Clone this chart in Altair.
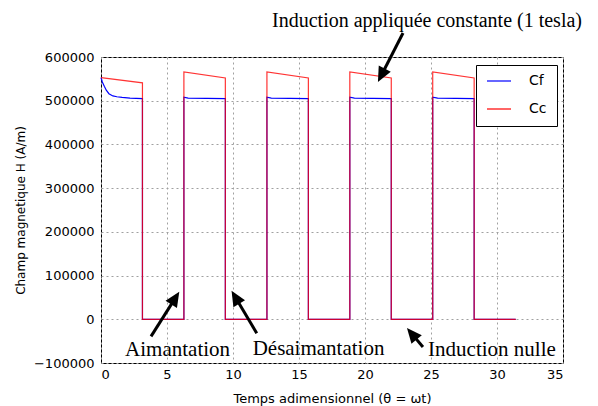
import math
import altair as alt
import pandas as pd

# ---- data ----
cc_t = [0.0, 3.14, 3.14, 6.28, 6.28, 9.42, 9.42, 12.57, 12.57, 15.71, 15.71,
        18.85, 18.85, 21.99, 21.99, 25.13, 25.13, 28.27, 28.27, 31.42]
cc_h = [553000, 541000, 0, 0, 566000, 552000, 0, 0, 566000, 552000, 0,
        0, 566000, 552000, 0, 0, 566000, 552000, 0, 0]

cf_t = [0.0, 0.1, 0.25, 0.4, 0.6, 0.9, 1.2, 1.6, 2.2, 3.14,
        3.14, 6.28,
        6.28, 6.6, 9.42, 9.42, 12.57,
        12.57, 12.9, 15.71, 15.71, 18.85,
        18.85, 19.2, 21.99, 21.99, 25.13,
        25.13, 25.5, 28.27, 28.27, 31.42]
cf_h = [553000, 543000, 533000, 524000, 516000, 511000, 509000, 507500, 506000, 505000,
        0, 0,
        508000, 506000, 505000, 0, 0,
        508000, 506000, 505000, 0, 0,
        508000, 506000, 505000, 0, 0,
        508000, 506000, 505000, 0, 0]

x_ticks = [0, 5, 10, 15, 20, 25, 30, 35]
y_ticks = [-100000, 0, 100000, 200000, 300000, 400000, 500000, 600000]

ann_text = ["Induction appliquée constante (1 tesla)", "Aimantation",
            "Désaimantation", "Induction nulle"]
ann_tx = [24.7, 5.80, 16.48, 29.62]
ann_ty = [682000, -70260, -67000, -70260]
ann_size = [20, 21, 21, 21]
arr_t0 = [22.88, 3.79, 11.80, 24.39]
arr_h0 = [655000, -39000, -32000, -63400]
arr_t1 = [20.98, 5.93, 9.89, 23.18]
arr_h1 = [542800, 63000, 65000, -19930]

W, H = 462, 306
XMIN, XMAX = 0, 35
YMIN, YMAX = -100000, 600000
sx = W / (XMAX - XMIN)
sy = H / (YMAX - YMIN)

cf = pd.DataFrame({"t": cf_t, "h": cf_h, "series": "Cf", "i": range(len(cf_t))})
cc = pd.DataFrame({"t": cc_t, "h": cc_h, "series": "Cc", "i": range(len(cc_t))})

rows = []
for t0, h0, t1, h1 in zip(arr_t0, arr_h0, arr_t1, arr_h1):
    dx = (t1 - t0) * sx
    dy = -(h1 - h0) * sy
    ln = math.hypot(dx, dy)
    ux, uy = dx / ln, dy / ln
    ang = math.degrees(math.atan2(dx, -dy)) % 360
    rows.append({"t0": t0, "h0": h0, "t1": t1, "h1": h1,
                 "te": t1 - ux * 9 / sx, "he": h1 + uy * 9 / sy, "angle": ang})
arr = pd.DataFrame(rows)
ann = pd.DataFrame({"text": ann_text, "t": ann_tx, "h": ann_ty, "size": ann_size})

xs = alt.Scale(domain=[XMIN, XMAX], nice=False, zero=False)
ys = alt.Scale(domain=[YMIN, YMAX], nice=False, zero=False)
color = alt.Color("series:N",
                  scale=alt.Scale(domain=["Cf", "Cc"], range=["#0000ff", "#ff0000"]),
                  legend=alt.Legend(title=None, orient="none", legendX=375, legendY=8,
                                    strokeColor="black", fillColor="white", padding=10,
                                    symbolType="stroke", symbolSize=576,
                                    symbolStrokeWidth=1.5, labelFont="DejaVu Sans",
                                    labelFontSize=14, labelColor="black",
                                    labelOffset=17, clipHeight=12, rowPadding=14,
                                    cornerRadius=0))

xax = alt.Axis(values=x_ticks, grid=True, title="Temps adimensionnel (θ = ωt)",
               labelPadding=5, titlePadding=11)
yax = alt.Axis(values=y_ticks, grid=True, title="Champ magnetique H (A/m)",
               format="d", labelPadding=7, titlePadding=6, titleFontSize=12)

blue = alt.Chart(cf).mark_line(strokeWidth=1.2).encode(
    x=alt.X("t:Q", scale=xs, axis=xax),
    y=alt.Y("h:Q", scale=ys, axis=yax),
    color=color,
    order="i:Q",
)
red = alt.Chart(cc).mark_line(strokeWidth=1.2, opacity=0.8).encode(
    x=alt.X("t:Q", scale=xs),
    y=alt.Y("h:Q", scale=ys),
    color=color,
    order="i:Q",
)
lines = alt.Chart(arr).mark_rule(color="black", strokeWidth=3).encode(
    x="t0:Q", y="h0:Q", x2="te:Q", y2="he:Q")
heads = alt.Chart(arr).mark_point(shape="M0,0L0.45,1L-0.45,1Z", filled=True,
                                  size=900, color="black", opacity=1,
                                  strokeWidth=0).encode(
    x="t1:Q", y="h1:Q", angle=alt.Angle("angle:Q", scale=None))
texts = alt.Chart(ann).mark_text(font="Liberation Serif", color="black",
                                 align="center", baseline="middle").encode(
    x="t:Q", y="h:Q", text="text:N", size=alt.Size("size:Q", scale=None, legend=None))

chart = alt.layer(blue, red, lines, heads, texts).properties(
    width=W, height=H,
    autosize=alt.AutoSizeParams(type="none"),
    padding={"left": 93, "top": 49, "right": 27, "bottom": 43},
).configure_view(stroke="black", strokeWidth=1).configure_axis(
    domain=False, ticks=False, gridColor="#a0a0a0", gridDash=[2, 3], gridWidth=1,
    labelFont="DejaVu Sans", labelFontSize=13, labelColor="black",
    titleFont="DejaVu Sans", titleFontSize=13, titleFontWeight="normal",
    titleColor="black",
)

chart.save("out.html", embed_options={"renderer": "svg", "actions": False})
